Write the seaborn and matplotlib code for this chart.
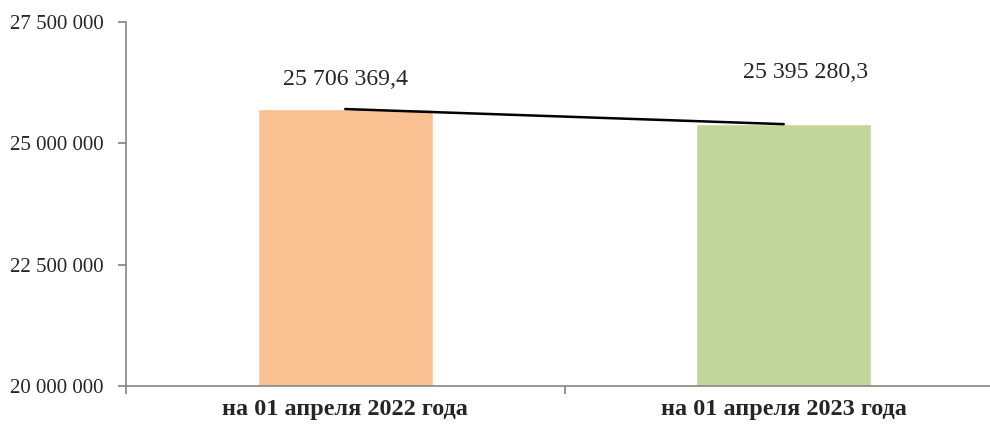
import matplotlib
matplotlib.use("Agg")
import matplotlib.pyplot as plt
import seaborn as sns
import pandas as pd
from matplotlib.ticker import FuncFormatter, FixedLocator

categories = ["на 01 апреля 2022 года", "на 01 апреля 2023 года"]
values = [25706369.4, 25395280.3]
value_labels = ["25 706 369,4", "25 395 280,3"]
bar_colors = ["#F9C191", "#C3D69B"]
y_ticks = [20000000, 22500000, 25000000, 27500000]

sns.set_theme(style="white")
plt.rcParams["font.family"] = ["Liberation Serif", "DejaVu Serif"]

df = pd.DataFrame({"cat": categories, "val": values})

fig = plt.figure(figsize=(9.9, 4.25), dpi=100)
ax = fig.add_axes([126 / 990, 1 - 386 / 425, 877 / 990, 364 / 425])

sns.barplot(data=df, x="cat", y="val", hue="cat", palette=bar_colors,
            width=0.4, legend=False, ax=ax, saturation=1)
sns.lineplot(x=[0, 1], y=values, color="black", linewidth=1.8, ax=ax)

ax.set_ylim(20000000, 27500000)
ax.set_xlim(-0.5, 1.5)
ax.yaxis.set_major_locator(FixedLocator(y_ticks))
ax.yaxis.set_major_formatter(FuncFormatter(lambda v, p: f"{int(v):,}".replace(",", " ")))
ax.xaxis.set_major_locator(FixedLocator([-0.5, 0.5, 1.5]))
ax.xaxis.set_minor_locator(FixedLocator([0, 1]))
ax.set_xticklabels(["", "", ""])
ax.set_xticklabels(categories, minor=True, fontsize=17.5, fontweight="bold")
ax.tick_params(axis="x", which="minor", length=0, pad=9)
ax.tick_params(axis="x", which="major", length=6, color="#868686", direction="out", bottom=True)
ax.tick_params(axis="y", length=6, color="#868686", direction="out", left=True, labelsize=15, pad=10)
ax.set_xlabel("")
ax.set_ylabel("")

for s in ["top", "right"]:
    ax.spines[s].set_visible(False)
for s in ["left", "bottom"]:
    ax.spines[s].set_color("#868686")
    ax.spines[s].set_linewidth(1.2)
ax.spines["bottom"].set_clip_on(False)

offsets = [(0, 30), (22, 52)]
for i, (v, lab) in enumerate(zip(values, value_labels)):
    ax.annotate(lab, xy=(i, v), xytext=offsets[i], textcoords="offset pixels",
                ha="center", va="center", fontsize=17.2)

fig.savefig("out.png", dpi=100)
